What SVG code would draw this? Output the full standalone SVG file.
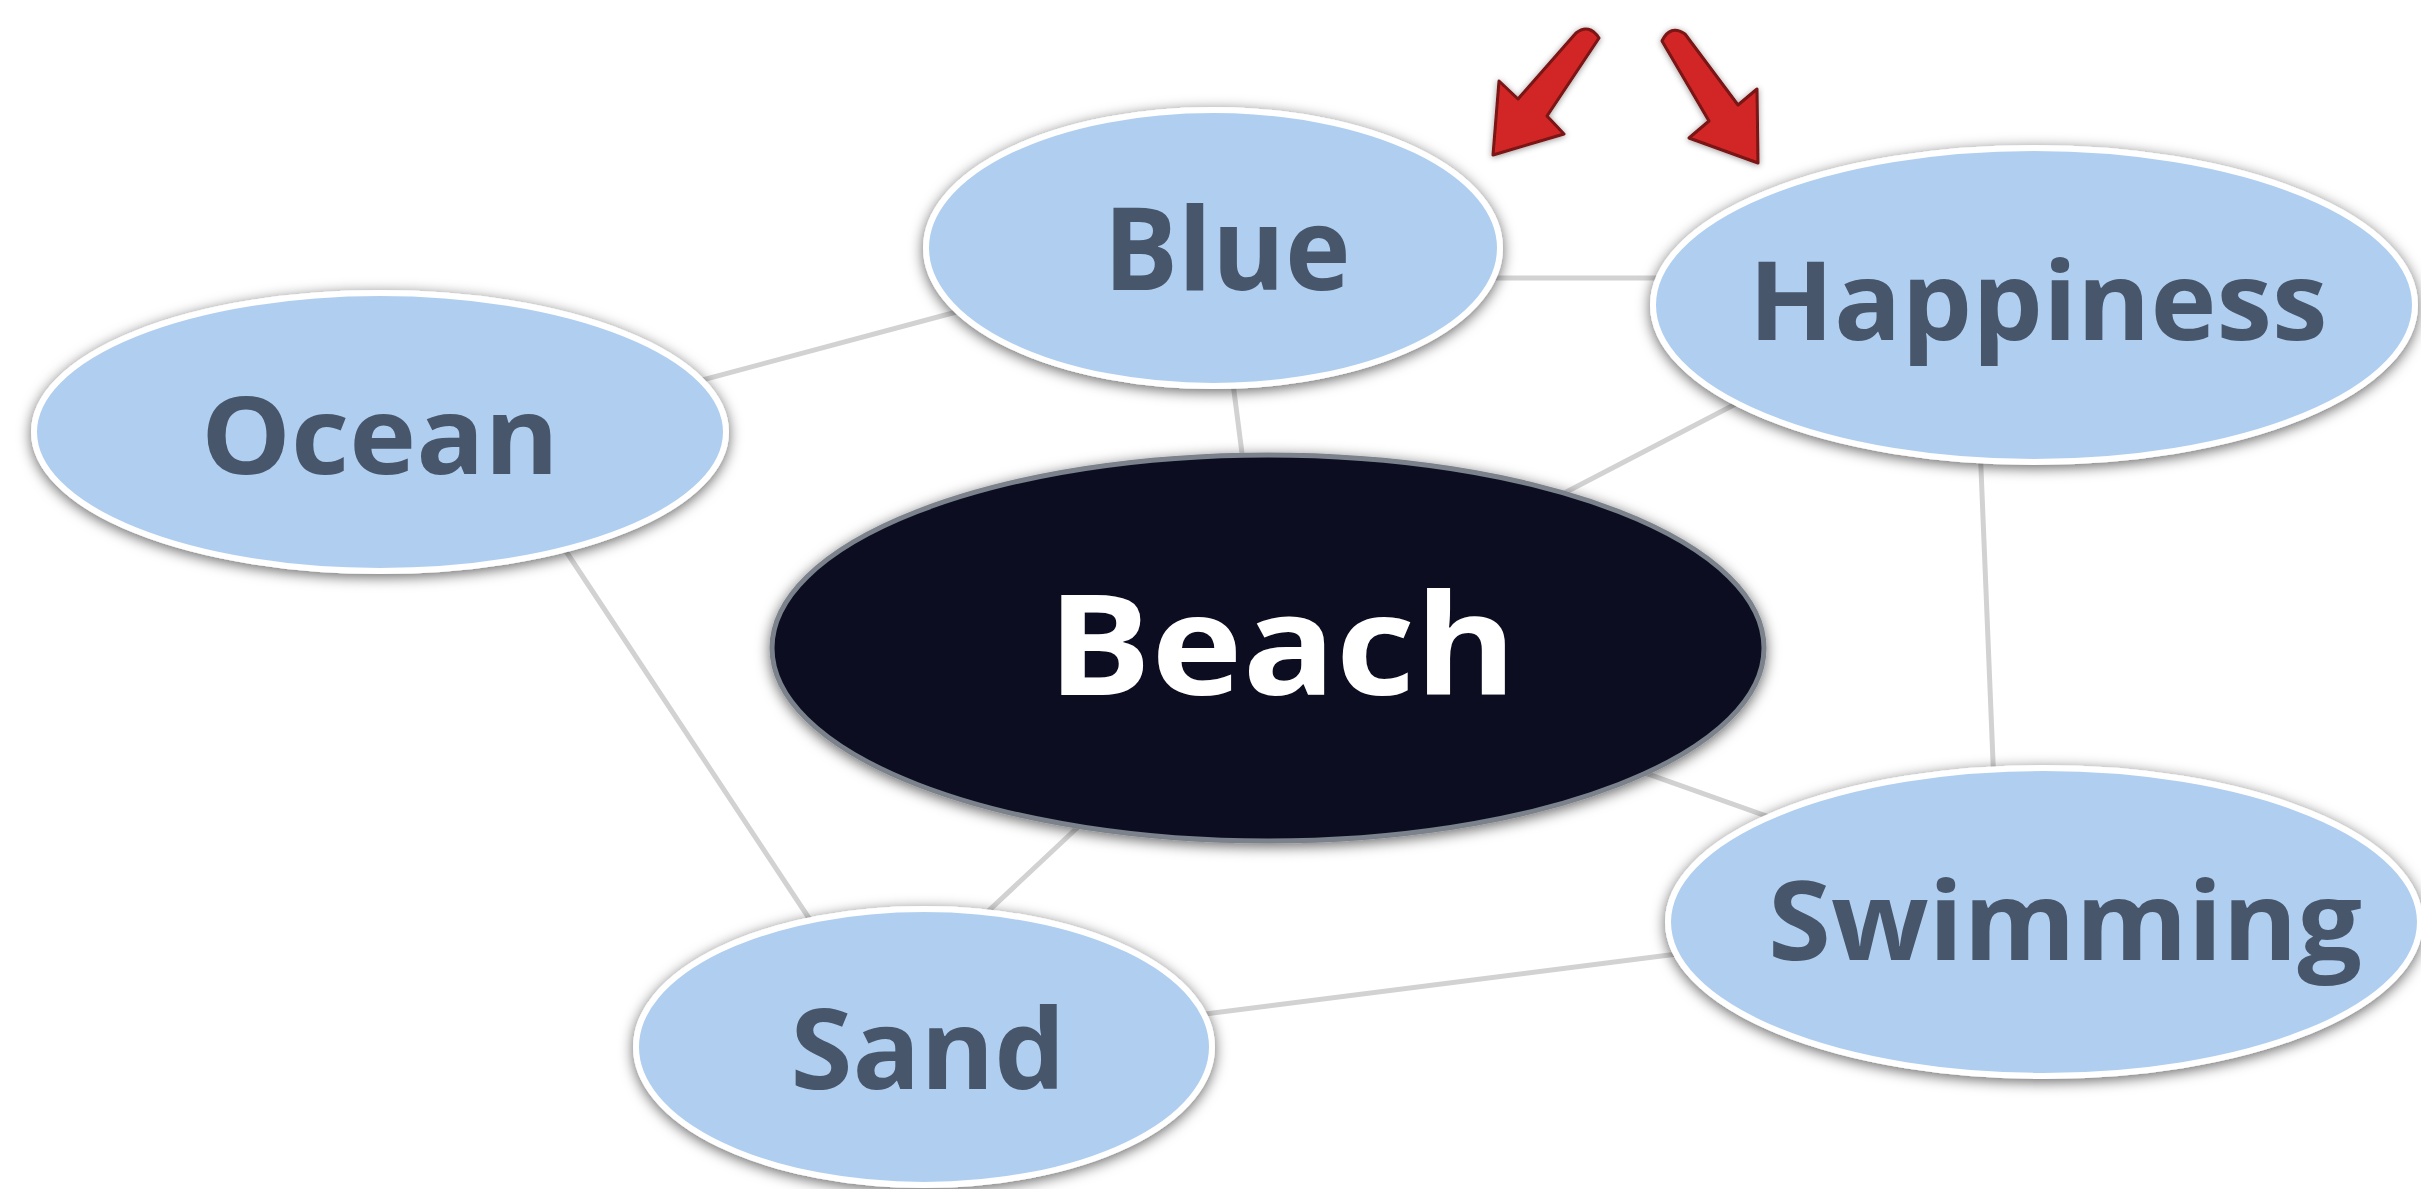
<svg xmlns="http://www.w3.org/2000/svg" width="2421" height="1189" viewBox="0 0 2421 1189">
<defs>
<filter id="sh" x="-20%" y="-20%" width="140%" height="140%">
<feDropShadow dx="0" dy="3" stdDeviation="7" flood-color="#000" flood-opacity="0.6"/>
</filter>
<filter id="ash" x="-30%" y="-30%" width="160%" height="160%">
<feDropShadow dx="0" dy="1" stdDeviation="3" flood-color="#000" flood-opacity="0.4"/>
</filter>
</defs>
<style>
.bg{fill:#ffffff}
.conn line{stroke:#d2d2d2;stroke-width:5;stroke-linecap:round}
.leaf{fill:#b0cff0;stroke:#ffffff;stroke-width:6;filter:url(#sh)}
.hub{fill:#0a1020;stroke:#7c828c;stroke-width:5;filter:url(#sh)}
.lt{font-family:"Open Sans","Noto Sans",sans-serif;font-weight:700;fill:#47566a;text-anchor:middle}
.ht{font-family:"Open Sans","Noto Sans",sans-serif;font-weight:700;fill:#ffffff;text-anchor:middle}
.arr{fill:#d22727;stroke:#7a1212;stroke-width:3;stroke-linejoin:round;filter:url(#ash)}
</style>
<rect class="bg" x="0" y="0" width="2421" height="1189"/>
<g id="connectors" class="conn">
<line x1="650" y1="394" x2="990" y2="303"/>
<line x1="1450" y1="278" x2="1700" y2="278"/>
<line x1="1230" y1="360" x2="1248" y2="500"/>
<line x1="1520" y1="516" x2="1780" y2="381"/>
<line x1="1979" y1="420" x2="1995" y2="810"/>
<line x1="540" y1="512" x2="840" y2="965"/>
<line x1="1110" y1="797" x2="950" y2="947"/>
<line x1="1600" y1="757" x2="1820" y2="835"/>
<line x1="1150" y1="1021" x2="1740" y2="946"/>
</g>
<g id="node-ocean">
<ellipse class="leaf" cx="380" cy="432" rx="346" ry="139"/>
<text class="lt" x="380" y="474" font-size="108" textLength="358" lengthAdjust="spacingAndGlyphs">Ocean</text>
</g>
<g id="node-blue">
<ellipse class="leaf" cx="1213" cy="248" rx="287" ry="138"/>
<text class="lt" x="1227" y="290" font-size="114" textLength="247" lengthAdjust="spacingAndGlyphs">Blue</text>
</g>
<g id="node-happiness">
<ellipse class="leaf" cx="2034" cy="305" rx="381" ry="157"/>
<text class="lt" x="2038" y="340" font-size="110" textLength="579" lengthAdjust="spacingAndGlyphs">Happiness</text>
</g>
<g id="node-beach">
<ellipse class="hub" cx="1268" cy="648" rx="496" ry="193"/>
<text class="ht" x="1282" y="695" font-size="140" textLength="469" lengthAdjust="spacingAndGlyphs">Beach</text>
</g>
<g id="node-swimming">
<ellipse class="leaf" cx="2044" cy="922" rx="376" ry="154"/>
<text class="lt" x="2065" y="960" font-size="110" textLength="594" lengthAdjust="spacingAndGlyphs">Swimming</text>
</g>
<g id="node-sand">
<ellipse class="leaf" cx="924" cy="1047" rx="288" ry="138"/>
<text class="lt" x="928" y="1089" font-size="112" textLength="275" lengthAdjust="spacingAndGlyphs">Sand</text>
</g>
<g id="arrows">
<path class="arr" d="M1576,33 Q1589,23 1599,38 L1547,116 L1564,134 L1493,155 L1499,81 L1518,99 Z"/>
<path class="arr" d="M1662,41 Q1670,24 1685,34 L1738,105 L1757,89 L1758,163 L1689,138 L1709,121 Z"/>
</g>
</svg>
